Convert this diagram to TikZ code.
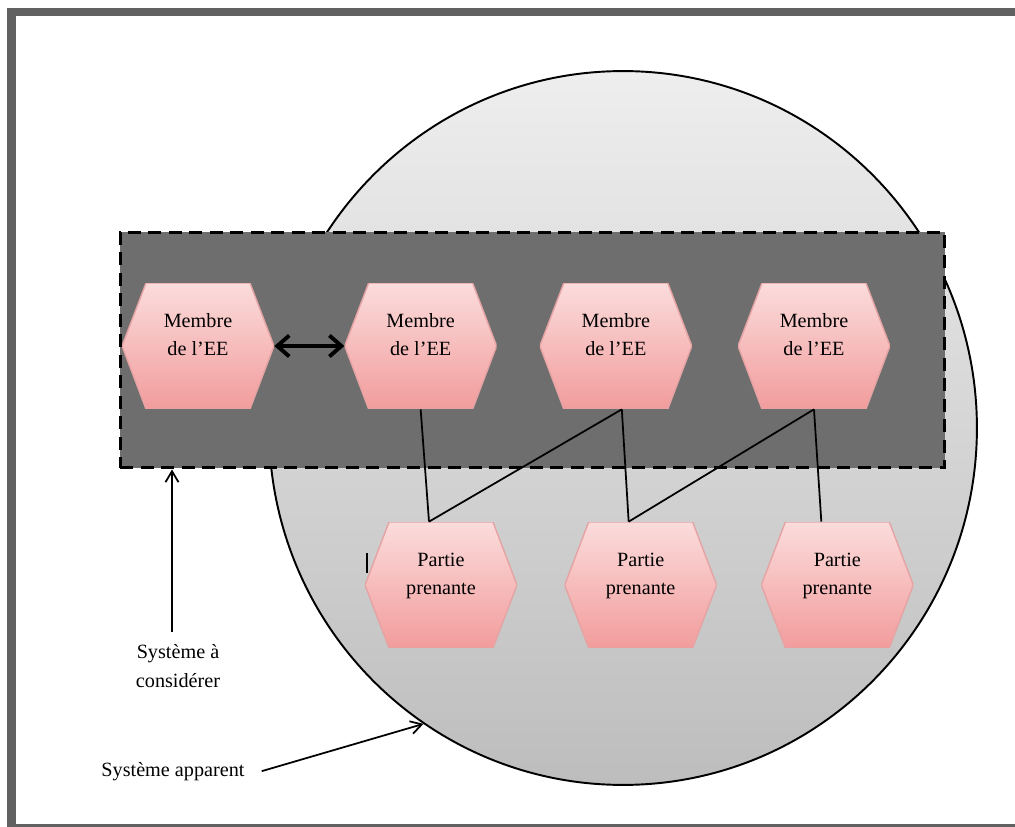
\documentclass[tikz,border=0pt]{standalone}
\usepackage{fontspec}
\setmainfont{Liberation Serif}
\usepackage{tikz}
\usetikzlibrary{positioning,calc,arrows.meta,shapes.geometric}

\definecolor{framegray}{HTML}{616161}
\definecolor{boxgray}{HTML}{6E6E6E}
\definecolor{discTop}{HTML}{EEEEEE}
\definecolor{discBot}{HTML}{BDBDBD}
\definecolor{hexTop}{HTML}{FBDCDC}
\definecolor{hexBot}{HTML}{F29C9C}
\definecolor{hexLine}{HTML}{E6A3A3}

\begin{document}
\begin{tikzpicture}[x=0.02cm, y=-0.02cm, font=\fontsize{11.5}{16}\selectfont, every edge/.append style={line width=1pt}, hexa/.style = {rectangle, minimum width=3.04cm, minimum height=2.52cm, inner sep=0pt, align=center, text depth=12.7pt, path picture={\shade[top color=hexTop, bottom color=hexBot, draw=hexLine, line width=0.8pt] (path picture bounding box.west) -- ([xshift=0.48cm]path picture bounding box.north west) -- ([xshift=-0.48cm]path picture bounding box.north east) -- (path picture bounding box.east) -- ([xshift=-0.48cm]path picture bounding box.south east) -- ([xshift=0.48cm]path picture bounding box.south west) -- cycle;}}, syst/.style = {rectangle, draw, fill=boxgray, line width=1.7pt, dash pattern=on 0.26cm off 0.15cm, minimum width=16.5cm, minimum height=4.72cm}, appar/.style = {ellipse, draw, line width=1.1pt, top color=discTop, bottom color=discBot, minimum width=14.16cm, minimum height=14.28cm}, lbl/.style = {align=center, anchor=base}, pointer/.style = {-{Straight Barb[length=2.2mm, width=2.6mm]}}]

\useasboundingbox (0,0) rectangle (1015,827);
\draw[framegray, line width=0.17cm] (11.5,12) rectangle (1021,828.5);

\node[appar] (sa) at (623,428) {};
\node[syst] (sc) at (532.5,350) {};

\node[hexa] (m1) at (198,346) {Membre\\de l'EE};
\node[hexa] (m2) [right=1.4cm of m1] {Membre\\de l'EE};
\node[hexa] (m3) [right=0.85cm of m2] {Membre\\de l'EE};
\node[hexa] (m4) [right=0.91cm of m3] {Membre\\de l'EE};
\node[hexa] (p1) at (441,585) {Partie\\prenante};
\node[hexa] (p2) [right=0.94cm of p1] {Partie\\prenante};
\node[hexa] (p3) [right=0.88cm of p2] {Partie\\prenante};

\node[lbl] (lc) at (178,687) {Système à\\considérer};
\node[lbl] (la) at (173,776) {Système apparent};
\coordinate (c1) at (172,632);

\path 
    (m1.east) edge[{Straight Barb[length=2.4mm, width=4.2mm]}-{Straight Barb[length=2.4mm, width=4.2mm]}, line width=2.2pt] (m2.west)
    (m2.south) edge ([xshift=-0.24cm]p1.north)
    ([xshift=-0.24cm]p1.north) edge ([xshift=0.12cm]m3.south)
    ([xshift=0.12cm]m3.south) edge ([xshift=-0.24cm]p2.north)
    ([xshift=-0.24cm]p2.north) edge (m4.south)
    (m4.south) edge ([xshift=-0.32cm]p3.north)
    (c1) edge[pointer] (c1 |- sc.south)
    ([xshift=0.22cm]la.east) edge[pointer] (sa.236);

\draw[line width=0.9pt] (367,553) -- (367,573);
\end{tikzpicture}
\end{document}
